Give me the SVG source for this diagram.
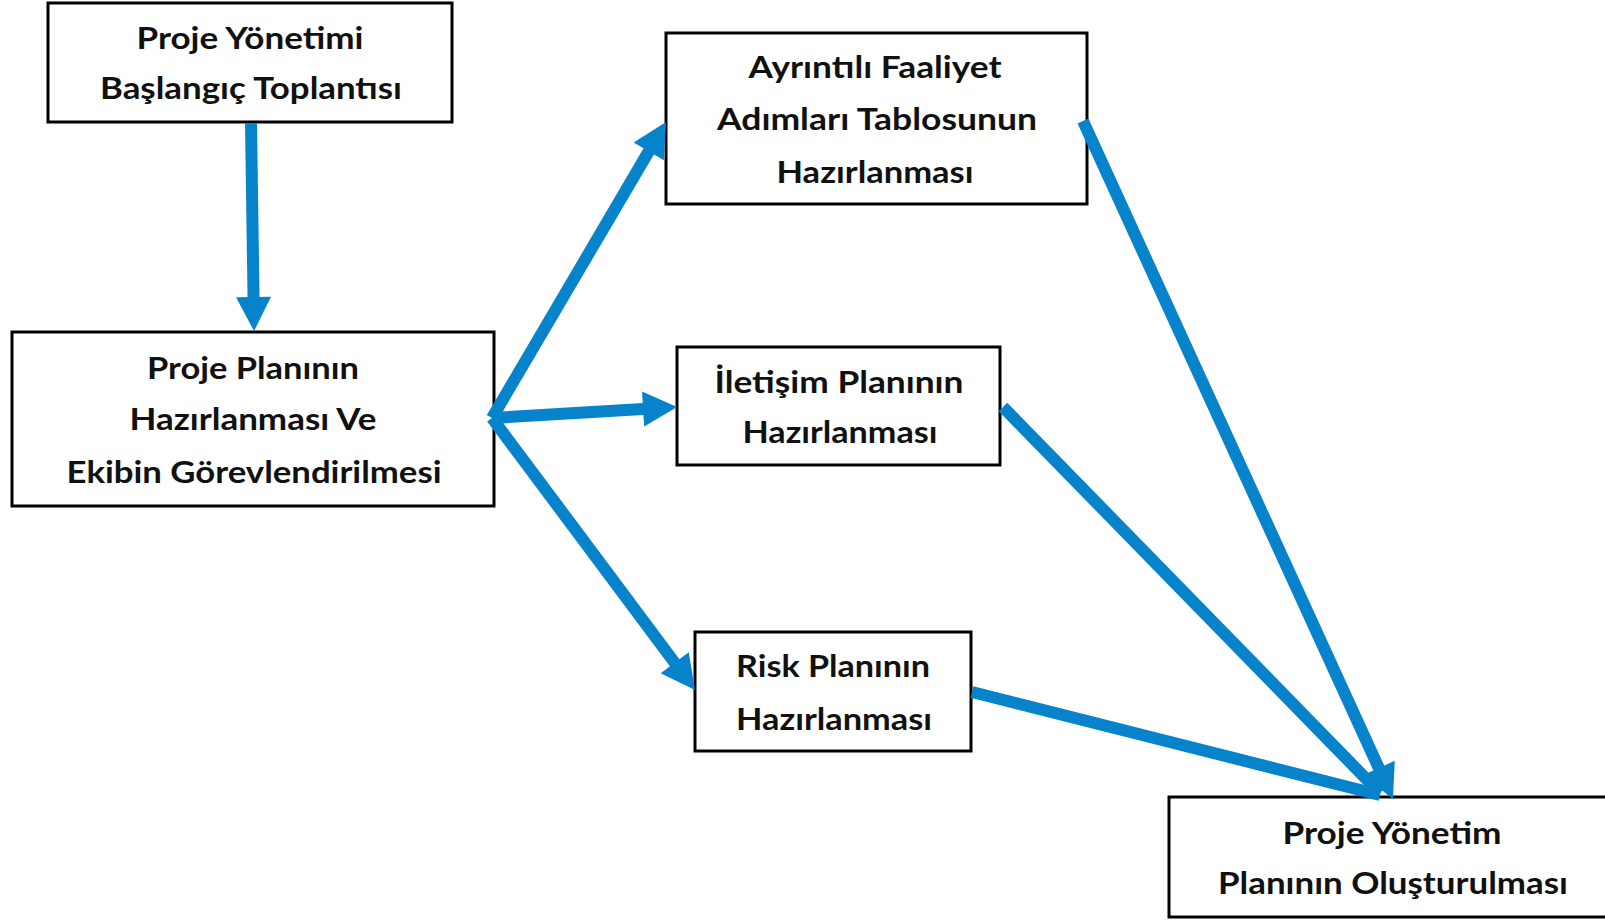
<svg xmlns="http://www.w3.org/2000/svg" width="1605" height="921" viewBox="0 0 1605 921">
  <defs>
    <style>
      .box { fill: #ffffff; stroke: #000000; stroke-width: 3; }
      .lbl { font-family: Lato, "Open Sans", "Liberation Sans", sans-serif; font-weight: 700; font-size: 30.5px; fill: #111111; text-anchor: middle; }
      .flow { stroke: #0683CA; stroke-width: 12; fill: none; stroke-linecap: butt; }
      .head { marker-end: url(#arrow); }
    </style>
    <marker id="arrow" markerUnits="userSpaceOnUse" markerWidth="34" markerHeight="35" refX="4" refY="17.5" orient="auto" overflow="visible">
      <path d="M0,0 L34,17.5 L0,35 Z" fill="#0683CA"/>
    </marker>
  </defs>
  <rect width="1605" height="921" fill="#ffffff"/>

  <g id="node-baslangic">
    <rect class="box" x="48" y="3" width="404" height="119"/>
    <text class="lbl" x="250" y="49" textLength="227" lengthAdjust="spacingAndGlyphs">Proje Yönetimi</text>
    <text class="lbl" x="251" y="99" textLength="302" lengthAdjust="spacingAndGlyphs">Başlangıç Toplantısı</text>
  </g>

  <g id="node-proje-plani">
    <rect class="box" x="12" y="332" width="482" height="174"/>
    <text class="lbl" x="253" y="379" textLength="212" lengthAdjust="spacingAndGlyphs">Proje Planının</text>
    <text class="lbl" x="253" y="430" textLength="247" lengthAdjust="spacingAndGlyphs">Hazırlanması Ve</text>
    <text class="lbl" x="254" y="483" textLength="375" lengthAdjust="spacingAndGlyphs">Ekibin Görevlendirilmesi</text>
  </g>

  <g id="node-faaliyet">
    <rect class="box" x="666" y="33" width="421" height="171"/>
    <text class="lbl" x="875" y="78" textLength="253" lengthAdjust="spacingAndGlyphs">Ayrıntılı Faaliyet</text>
    <text class="lbl" x="877" y="130" textLength="320" lengthAdjust="spacingAndGlyphs">Adımları Tablosunun</text>
    <text class="lbl" x="875" y="183" textLength="197" lengthAdjust="spacingAndGlyphs">Hazırlanması</text>
  </g>

  <g id="node-iletisim">
    <rect class="box" x="677" y="347" width="323" height="118"/>
    <text class="lbl" x="839" y="393" textLength="249" lengthAdjust="spacingAndGlyphs">İletişim Planının</text>
    <text class="lbl" x="840" y="443" textLength="195" lengthAdjust="spacingAndGlyphs">Hazırlanması</text>
  </g>

  <g id="node-risk">
    <rect class="box" x="695" y="632" width="276" height="119"/>
    <text class="lbl" x="833" y="677" textLength="194" lengthAdjust="spacingAndGlyphs">Risk Planının</text>
    <text class="lbl" x="834" y="730" textLength="196" lengthAdjust="spacingAndGlyphs">Hazırlanması</text>
  </g>

  <g id="node-yonetim-plani">
    <rect class="box" x="1169" y="797" width="448" height="120"/>
    <text class="lbl" x="1392" y="844" textLength="219" lengthAdjust="spacingAndGlyphs">Proje Yönetim</text>
    <text class="lbl" x="1393" y="894" textLength="350" lengthAdjust="spacingAndGlyphs">Planının Oluşturulması</text>
  </g>

  <g id="connectors">
    <line class="flow head" x1="251" y1="123" x2="253.6" y2="301"/>
    <line class="flow head" x1="492" y1="418" x2="650.8" y2="147.9"/>
    <line class="flow head" x1="492" y1="418" x2="647.1" y2="408.8"/>
    <line class="flow head" x1="492" y1="418" x2="677.1" y2="666"/>
    <line class="flow head" x1="1083" y1="121" x2="1380.5" y2="771.7"/>
    <line class="flow" x1="1003" y1="407" x2="1380" y2="793"/>
    <line class="flow" x1="972" y1="692" x2="1380" y2="795"/>
  </g>
</svg>
